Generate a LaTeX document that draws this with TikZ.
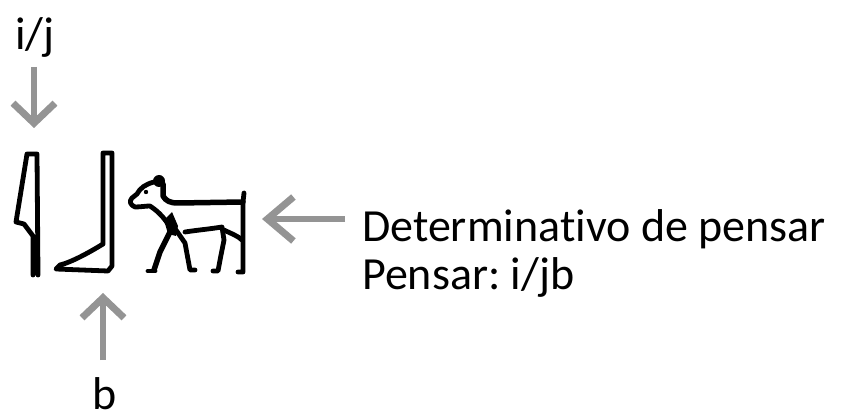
\documentclass[tikz,border=0pt]{standalone}
\usepackage{fontspec}
\setmainfont{Carlito}[Ligatures=NoCommon]
\usetikzlibrary{arrows.meta}
\tikzset{
  label text/.style={inner sep=0pt, anchor=base west, font=\fontsize{46}{48}\selectfont},
  pointer/.style={draw=black!42, line width=6.5pt,
    -{Straight Barb[length=20pt,width=42pt,line width=7pt]}},
  glyph/.style={draw=black, line width=4.8pt, line join=round, line cap=round},
}
\begin{document}
\frenchspacing
\begin{tikzpicture}[x=1pt,y=-1pt]
\useasboundingbox (0,0) rectangle (856,419);

% labels
\node[label text] (ij) at (15,50) {i/j};
\node[label text] (b) at (92,409) {b};
\node[label text] (det) at (362,242) {Determinativo de pensar};
\node[label text] (pen) at (362,290) {Pensar: i/jb};

% reed leaf (i)
\draw[glyph] (27,154) -- (37,154) -- (38,275)
  (27,154) -- (16,222) -- (24,224) -- (33,236) -- (33,275);
% leg and foot (b)
\draw[glyph] (103,244) -- (103,153) -- (112,153) -- (112,266)
  (103,244) .. controls (90,252) and (72,262) .. (60,265)
  -- (56,269) -- (108,271) -- (112,266);
% goat: head and neck
\fill (159,181) circle (6pt);
\draw[glyph] (154,182) .. controls (146,184) and (140,188) .. (137,194)
  -- (132,198) .. controls (129,201) and (130,205) .. (135,207)
  .. controls (140,207) and (146,206) .. (150,206)
  .. controls (156,210) and (162,215) .. (168,224);
\fill (146,192) circle (2.2pt);
% back, tail and rump
\draw[glyph, line width=5.5pt] (163,184) -- (163,196)
  .. controls (166,201) and (170,203) .. (178,203)
  -- (243,202);
\draw[glyph] (243,202) -- (244,193)
  (243,202) -- (243,272) -- (238,272);
% front legs
\fill (164,220) -- (172,212) -- (178,226) -- (176,236) -- (168,234) -- cycle;
\draw[glyph, line width=5.5pt] (170,232) -- (160,252) -- (154,270);
\draw[glyph] (155,271) -- (148,271);
\draw[glyph] (176,230) -- (185,243) -- (190,270) -- (195,270);
% belly and hind legs
\draw[glyph] (185,232) .. controls (198,230) and (210,229) .. (222,227)
  -- (224,240) -- (221,255) -- (218,271) -- (213,271);
\draw[glyph] (224,230) .. controls (232,234) and (238,236) .. (242,240);

% pointers
\coordinate (ijfrom) at (34,67);
\coordinate (ijto) at (34,128);
\coordinate (bfrom) at (103,360);
\coordinate (bto) at (103,293);
\coordinate (detfrom) at (345,219);
\coordinate (detto) at (262,219);
\draw[pointer] (ijfrom) -- (ijto);
\draw[pointer] (bfrom) -- (bto);
\draw[pointer, -{Straight Barb[length=26pt,width=44pt,line width=7pt]}] (detfrom) -- (detto);
\end{tikzpicture}
\end{document}
